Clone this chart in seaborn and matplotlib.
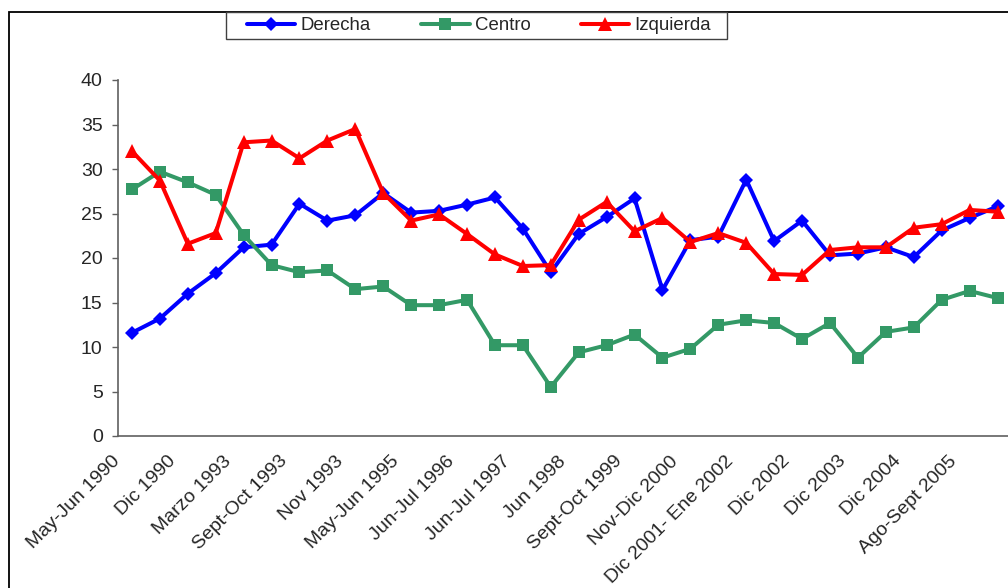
import numpy as np
import pandas as pd
import matplotlib
matplotlib.use("Agg")
import matplotlib.pyplot as plt
import matplotlib.transforms as mtrans
from matplotlib.patches import Rectangle
import seaborn as sns

tick_labels = ["May-Jun 1990", "Dic 1990", "Marzo 1993", "Sept-Oct 1993", "Nov 1993",
               "May-Jun 1995", "Jun-Jul 1996", "Jun-Jul 1997", "Jun 1998", "Sept-Oct 1999",
               "Nov-Dic 2000", "Dic 2001- Ene 2002", "Dic 2002", "Dic 2003", "Dic 2004",
               "Ago-Sept 2005"]

derecha = [11.6, 13.2, 16.0, 18.3, 21.2, 21.5, 26.1, 24.2, 24.8, 27.3,
           25.1, 25.3, 26.0, 26.8, 23.3, 18.4, 22.7, 24.6, 26.7, 16.4,
           22.0, 22.4, 28.8, 21.9, 24.2, 20.3, 20.5, 21.2, 20.1, 23.1,
           24.5, 25.8]
centro = [27.7, 29.7, 28.5, 27.1, 22.6, 19.2, 18.4, 18.6, 16.5, 16.8,
          14.7, 14.7, 15.3, 10.2, 10.2, 5.5, 9.4, 10.2, 11.4, 8.8,
          9.8, 12.5, 13.0, 12.7, 10.9, 12.7, 8.8, 11.7, 12.2, 15.3,
          16.3, 15.5]
izquierda = [32.0, 28.7, 21.6, 22.8, 33.0, 33.2, 31.2, 33.2, 34.5, 27.3,
             24.2, 24.9, 22.7, 20.4, 19.1, 19.2, 24.3, 26.3, 23.0, 24.5,
             21.8, 22.8, 21.7, 18.2, 18.1, 20.9, 21.2, 21.2, 23.4, 23.8,
             25.4, 25.2]

series_names = ["Derecha", "Centro", "Izquierda"]
colors = {"Derecha": "#0000FF", "Centro": "#339966", "Izquierda": "#FF0000"}
markers = {"Derecha": "D", "Centro": "s", "Izquierda": "^"}
msizes = {"Derecha": 7, "Centro": 8.4, "Izquierda": 9.6}

n = len(derecha)
positions = np.arange(n)
df = pd.DataFrame({
    "pos": np.tile(positions, 3),
    "valor": derecha + centro + izquierda,
    "serie": np.repeat(series_names, n),
})

sns.set_style("white")
plt.rcParams["font.family"] = ["Liberation Sans", "DejaVu Sans"]

W, H = 1008, 588
fig = plt.figure(figsize=(W / 100, H / 100), dpi=100)
ax = fig.add_axes([118 / W, 1 - 436 / H, 893.5 / W, 356 / H])

for name in series_names:
    sns.lineplot(data=df[df["serie"] == name], x="pos", y="valor", ax=ax,
                 color=colors[name], marker=markers[name], markersize=msizes[name],
                 markeredgewidth=0, linewidth=2.9, label=name, legend=False)

ax.set_xlim(-0.5, n - 0.5)
ax.set_ylim(0, 40)
ax.set_yticks(np.arange(0, 41, 5))
ax.set_xticks(positions[::2])
ax.set_xticklabels(tick_labels, rotation=45, ha="right", va="top",
                   rotation_mode="anchor", fontsize=14)
ax.set_xticks(np.arange(-0.5, n, 1), minor=True)
ax.tick_params(axis="x", which="major", length=0, pad=12)
ax.tick_params(axis="x", which="minor", length=4, width=1, color="#606060", direction="out")
ax.tick_params(axis="y", length=4, width=1, color="#606060", direction="out", pad=7,
               labelsize=14, left=True)
offset = mtrans.ScaledTranslation(-21 / 100, 0, fig.dpi_scale_trans)
for lbl in ax.get_xticklabels():
    lbl.set_transform(lbl.get_transform() + offset)

ax.set_xlabel("")
ax.set_ylabel("")
for side in ["top", "right"]:
    ax.spines[side].set_visible(False)
for side in ["left", "bottom"]:
    ax.spines[side].set_color("#606060")
    ax.spines[side].set_linewidth(1.2)
ax.grid(False)

# outer chart border
fig.patches.append(Rectangle((9 / W, -0.1), 2.0, 1 - 12 / H + 0.1, transform=fig.transFigure,
                             fill=False, edgecolor="black", linewidth=1.3, zorder=0))
# legend frame
fig.patches.append(Rectangle((226 / W, 1 - 39 / H), 501 / W, 27 / H, transform=fig.transFigure,
                             facecolor="white", edgecolor="#404040", linewidth=1.0, zorder=1))

handles, labels = ax.get_legend_handles_labels()
leg = fig.legend(handles, labels, loc="center", bbox_to_anchor=(479 / W, 1 - 25.5 / H),
                 ncol=3, frameon=False, fontsize=13.4, handlelength=2.6,
                 handletextpad=0.28, columnspacing=2.7, borderpad=0.1, borderaxespad=0)
leg.set_zorder(5)

fig.savefig("out.png", dpi=100)
